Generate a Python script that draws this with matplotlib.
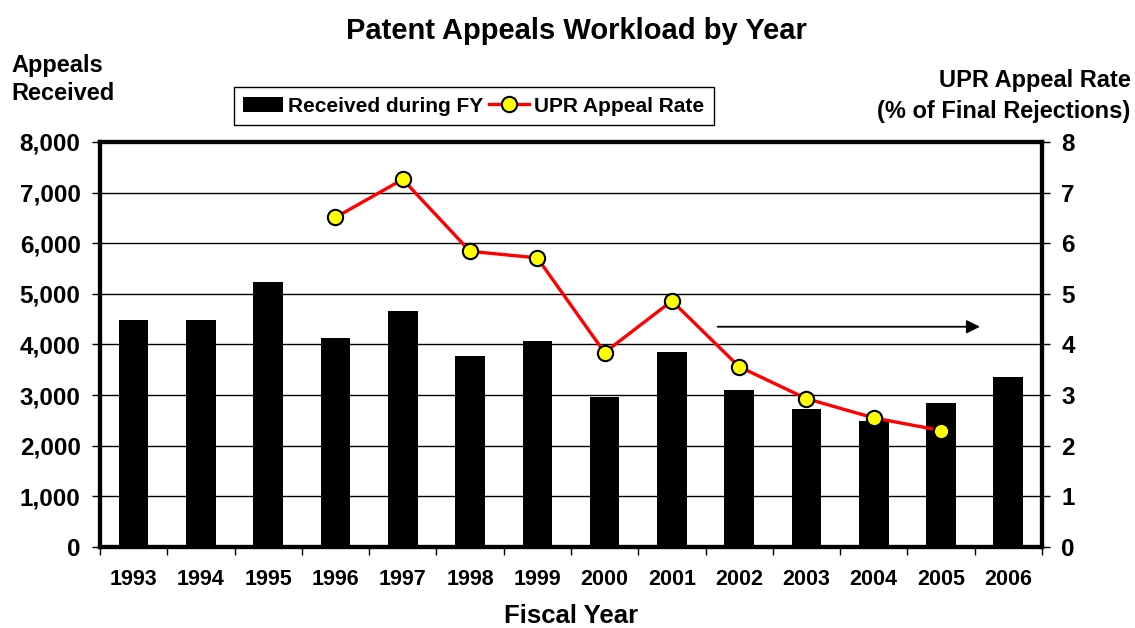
import matplotlib
matplotlib.use("Agg")
import matplotlib.pyplot as plt
from matplotlib.ticker import FuncFormatter, FixedLocator

# Data
years = ["1993", "1994", "1995", "1996", "1997", "1998", "1999",
         "2000", "2001", "2002", "2003", "2004", "2005", "2006"]
received = [4480, 4480, 5240, 4130, 4660, 3780, 4060,
            2970, 3860, 3110, 2720, 2480, 2840, 3360]
rate_years = ["1996", "1997", "1998", "1999", "2000",
              "2001", "2002", "2003", "2004", "2005"]
upr_rate = [6.51, 7.26, 5.84, 5.71, 3.84, 4.86, 3.56, 2.93, 2.55, 2.30]

plt.rcParams['font.family'] = ['Liberation Sans', 'DejaVu Sans']
plt.rcParams['font.weight'] = 'bold'

fig = plt.figure(figsize=(11.35, 6.28), dpi=100)
ax = fig.add_axes([0.0881, 0.129, 0.8299, 0.645])

x = list(range(len(years)))
ax.bar(x, received, width=0.44, color='black', zorder=2, label='Received during FY')

ax.set_xlim(-0.5, len(years) - 0.5)
ax.set_ylim(0, 8000)
ax.set_yticks(range(0, 8001, 1000))
ax.yaxis.set_major_formatter(FuncFormatter(lambda v, p: f"{int(v):,}"))
ax.grid(axis='y', color='black', lw=1.0, zorder=0)

# year labels centred under bars, tick marks between categories
ax.set_xticks(x)
ax.set_xticklabels(years, fontsize=15.5, fontweight='bold')
ax.tick_params(axis='x', length=0, pad=16)
ax.xaxis.set_minor_locator(FixedLocator([i - 0.5 for i in range(len(years) + 1)]))
ax.tick_params(axis='x', which='minor', length=6, width=1, direction='out')
ax.tick_params(axis='y', length=6, width=1, direction='out', labelsize=17.5, pad=8)
for lab in ax.get_yticklabels():
    lab.set_fontweight('bold')

for s in ax.spines.values():
    s.set_linewidth(3)

ax.set_xlabel("Fiscal Year", fontsize=18.5, fontweight='bold', labelpad=10)

# right axis with the rate line
ax2 = ax.twinx()
ax2.set_ylim(0, 8)
ax2.set_yticks(range(0, 9))
ax2.tick_params(axis='y', length=6, width=1, direction='out', labelsize=17.5, pad=8)
for lab in ax2.get_yticklabels():
    lab.set_fontweight('bold')
for s in ax2.spines.values():
    s.set_linewidth(3)

rate_x = [years.index(y) for y in rate_years]
ax2.plot(rate_x, upr_rate, color='#ff0000', lw=2.4, marker='o', markersize=11,
         markerfacecolor='#ffff00', markeredgecolor='black', markeredgewidth=1.5,
         label='UPR Appeal Rate', zorder=3)

# arrow annotation
ax2.annotate("", xy=(12.62, 4.35), xytext=(8.64, 4.35),
             arrowprops=dict(arrowstyle='-|>', color='black', lw=1.3, mutation_scale=20))

# legend
h1, l1 = ax.get_legend_handles_labels()
h2, l2 = ax2.get_legend_handles_labels()
leg = fig.legend(h1 + h2, l1 + l2, loc='center left', bbox_to_anchor=(0.206, 0.831),
                 ncol=2, frameon=True, fancybox=False, edgecolor='black',
                 prop={'weight': 'bold', 'size': 15}, handlelength=1.9,
                 handletextpad=0.25, columnspacing=0.3, borderpad=0.45,
                 borderaxespad=0, framealpha=1)
leg.get_frame().set_linewidth(1.0)

fig.text(0.508, 0.950, "Patent Appeals Workload by Year", ha='center', va='center',
         fontsize=21, fontweight='bold')
fig.text(0.010, 0.873, "Appeals\nReceived", ha='left', va='center',
         fontsize=17, fontweight='bold', linespacing=1.27)
fig.text(0.996, 0.847, "UPR Appeal Rate\n(% of Final Rejections)", ha='right', va='center',
         fontsize=17, fontweight='bold', linespacing=1.45, multialignment='right')

fig.savefig("out.png", dpi=100)
